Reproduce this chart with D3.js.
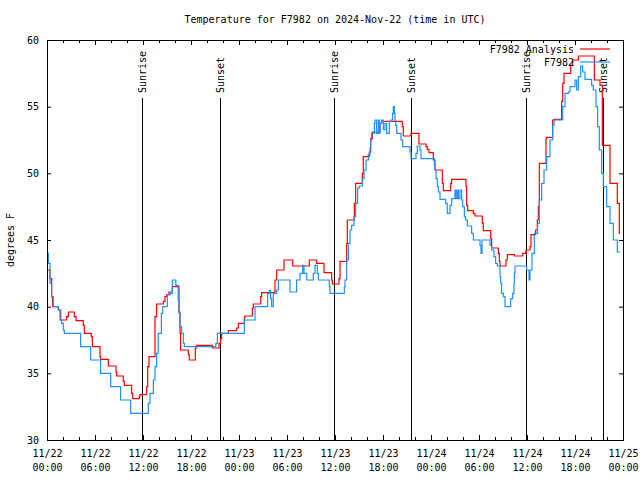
<!DOCTYPE html>
<html>
<head>
<meta charset="utf-8">
<script src="https://cdn.jsdelivr.net/npm/d3@7"></script>
<style>
  body { margin: 0; background: #fff; }
  svg text { font-family: "DejaVu Sans Mono", monospace; font-size: 10px; fill: #000; }
</style>
</head>
<body>
<div id="chart"></div>
<script>
// hours after 2024-11-22 00:00 UTC, temperature in F
const analysisSeries = [
  [0, 42.75], [0.375, 42.1], [0.58, 40.75], [0.71, 40.0], [1.42, 39.75], [1.71, 39.0],
  [2.46, 39.25], [2.67, 39.6], [3.42, 39.25], [3.625, 38.95], [4.54, 38.6], [4.67, 38.0],
  [5.54, 37.75], [5.67, 37.0], [6.625, 36.25], [6.71, 36.05], [7.67, 35.55], [8.625, 35.1],
  [8.71, 34.8], [9.54, 34.4], [9.67, 34.1], [10.58, 33.5], [10.71, 33.1], [11.54, 33.25],
  [11.625, 33.4], [12.46, 34.0], [12.58, 35.5], [12.75, 36.25], [13.5, 39.25], [13.7, 40.2],
  [14.54, 40.4], [14.75, 40.75], [14.96, 40.9], [15.25, 41.1], [15.67, 41.5], [16.5, 39.6],
  [16.625, 38.0], [16.7, 36.75], [17.67, 36.4], [17.79, 36.0], [18.54, 36.9], [18.7, 37.1],
  [20.67, 36.9], [21.5, 37.25], [21.7, 37.6], [21.83, 38.0], [22.67, 38.2], [23.71, 38.4],
  [23.92, 38.75], [24.67, 39.2], [24.75, 39.3], [25.67, 39.9], [25.79, 40.2], [26.71, 40.75],
  [26.83, 41.05], [28.42, 41.1], [28.5, 42.0], [28.71, 42.75], [29.625, 43.5], [30.71, 43.05],
  [32.79, 43.5], [33.7, 43.25], [34.625, 42.55], [35.58, 42.0], [35.67, 41.7], [36.5, 42.1],
  [36.625, 43.4], [37.46, 44.75], [37.54, 46.5], [38.42, 47.75], [38.58, 49.25], [39.42, 50.0],
  [39.54, 51.25], [40.29, 51.6], [40.46, 52.6], [40.67, 53.1], [41.625, 53.75], [41.83, 53.9],
  [44.42, 53.5], [44.54, 52.8], [45.5, 53.0], [46.5, 52.2], [47.375, 52.0], [47.54, 51.8],
  [47.75, 51.55], [48.29, 51.0], [48.5, 50.25], [49.42, 49.25], [49.54, 48.7], [50.46, 49.25],
  [50.58, 49.55], [52.375, 49.0], [52.46, 47.6], [52.58, 47.2], [53.29, 47.0], [53.5, 46.8],
  [54.42, 46.25], [54.54, 45.7], [55.46, 45.1], [55.58, 44.4], [56.42, 44.0], [56.54, 43.4],
  [56.625, 43.05], [57.375, 43.5], [57.54, 43.9], [58.42, 43.8], [59.46, 44.0], [59.875, 44.25],
  [60.375, 44.5], [60.5, 45.4], [61.08, 45.75], [61.29, 46.5], [61.42, 47.5], [61.54, 50.75],
  [62.375, 52.6], [62.46, 52.7], [63.21, 54.0], [63.375, 54.05], [64.33, 55.4], [64.46, 56.75],
  [64.625, 57.5], [65.46, 58.1], [65.71, 58.5], [66.42, 58.8], [68.42, 57.0], [69.125, 56.6],
  [69.42, 52.1], [70.375, 49.25], [71.29, 47.75], [71.54, 45.5], [71.625, 45.5]
];

const obsSeries = [
  [0, 44.0], [0.17, 43.25], [0.375, 41.75], [0.58, 40.75], [0.79, 40.0], [1.42, 39.75],
  [1.625, 39.0], [1.83, 38.75], [2.04, 38.25], [2.17, 38.0], [4.2, 37.0], [5.46, 36.0],
  [6.7, 35.0], [7.96, 34.0], [9.2, 33.0], [10.46, 32.0], [12.67, 32.75], [12.875, 33.5],
  [13.3, 34.5], [13.5, 35.5], [13.7, 36.5], [13.9, 38.0], [14.3, 39.5], [14.46, 40.0],
  [15.04, 40.9], [15.4, 41.0], [15.67, 42.0], [16.1, 41.6], [16.4, 40.5], [16.5, 39.5],
  [16.625, 38.5], [16.83, 38.0], [17.04, 37.25], [17.17, 37.0], [21.1, 37.25], [21.3, 38.0],
  [24.67, 39.0], [26.0, 40.0], [27.58, 41.0], [27.79, 41.2], [27.95, 40.6], [28.08, 40.0],
  [28.29, 41.0], [28.71, 41.25], [28.92, 42.0], [30.375, 41.1], [31.2, 42.0], [31.625, 42.5],
  [31.96, 43.1], [32.125, 42.5], [32.46, 42.0], [33.29, 42.5], [33.5, 43.1], [33.79, 42.5],
  [33.92, 42.0], [35.29, 41.5], [35.375, 41.0], [37.17, 41.5], [37.25, 42.0], [37.46, 43.5],
  [37.67, 44.75], [37.875, 45.75], [38.08, 46.1], [38.375, 46.75], [38.58, 47.75], [38.83, 48.9],
  [39.04, 49.05], [39.42, 49.6], [39.625, 50.25], [39.875, 51.0], [40.17, 51.4], [40.375, 51.9],
  [40.46, 52.5], [40.58, 53.0], [40.92, 53.75], [41.0, 54.0], [41.2, 53.0], [41.42, 54.0],
  [41.54, 53.0], [41.625, 53.75], [41.83, 54.0], [42.04, 53.25], [42.25, 53.75], [42.46, 53.0],
  [42.79, 53.9], [42.96, 54.0], [43.2, 54.5], [43.29, 55.0], [43.42, 54.5], [43.5, 54.0],
  [43.58, 53.6], [43.71, 53.0], [44.25, 52.5], [44.46, 52.0], [45.375, 51.6], [45.5, 51.1],
  [46.125, 51.5], [46.29, 52.05], [46.625, 51.75], [46.75, 51.1], [48.42, 50.6], [48.5, 50.25],
  [48.625, 49.6], [48.79, 49.0], [48.92, 48.6], [49.125, 48.05], [49.83, 47.75], [50.04, 47.0],
  [50.375, 47.6], [50.58, 48.1], [51.0, 48.75], [51.125, 48.1], [51.29, 48.75], [51.42, 48.1],
  [51.625, 48.75], [51.83, 48.0], [51.96, 47.5], [52.17, 46.75], [52.33, 46.5], [52.54, 46.05],
  [53.08, 45.5], [53.29, 45.0], [54.125, 44.6], [54.25, 44.0], [54.375, 45.0], [55.375, 44.6],
  [55.58, 44.25], [55.875, 43.75], [56.08, 43.25], [56.29, 43.05], [56.625, 42.25], [56.71, 41.75],
  [56.83, 41.0], [57.04, 40.75], [57.25, 40.0], [57.96, 40.6], [58.21, 41.0], [58.375, 41.75],
  [58.42, 42.5], [58.5, 43.05], [59.96, 42.75], [60.25, 42.0], [60.375, 42.75], [60.625, 44.0],
  [60.92, 45.5], [61.33, 46.25], [61.54, 48.0], [61.83, 49.25], [62.125, 50.25], [62.46, 51.25],
  [62.875, 52.5], [63.21, 53.6], [63.375, 54.0], [64.46, 55.0], [64.75, 56.0], [65.17, 56.1],
  [65.375, 56.5], [66.0, 57.0], [66.21, 56.25], [66.42, 57.25], [66.71, 58.05], [66.96, 57.6],
  [67.25, 57.05], [68.08, 56.6], [68.29, 56.25], [68.625, 55.0], [68.83, 53.5], [69.04, 51.75],
  [69.33, 50.0], [69.54, 49.0], [69.96, 47.5], [70.375, 46.25], [70.79, 45.0], [71.29, 44.1],
  [71.625, 44.1]
];

const sunEvents = [
  ["Sunrise", 11.9], ["Sunset", 21.6], ["Sunrise", 35.9],
  ["Sunset", 45.5], ["Sunrise", 59.9], ["Sunset", 69.5]
];

const yTicks = [30, 35, 40, 45, 50, 55, 60];
const seriesNames = ["F7982 Analysis", "F7982"];
const seriesColors = ["#ff0000", "#1e90ff"];

const width = 640, height = 480;
const margin = {top: 40, right: 17, bottom: 40, left: 47};
const w = width - margin.left - margin.right;
const h = height - margin.top - margin.bottom;

const t0 = Date.UTC(2024, 10, 22);
const toDate = hr => new Date(t0 + hr * 3600 * 1000);

const x = d3.scaleUtc()
  .domain([toDate(0), toDate(72)])
  .range([0, w]);
const y = d3.scaleLinear()
  .domain([30, 60])
  .range([h, 0]);

const svg = d3.select("#chart")
  .append("svg")
  .attr("width", width)
  .attr("height", height);

svg.append("text")
  .attr("x", margin.left + w / 2)
  .attr("y", 23)
  .attr("text-anchor", "middle")
  .text("Temperature for F7982 on 2024-Nov-22 (time in UTC)");

svg.append("text")
  .attr("transform", `translate(14,${margin.top + h / 2}) rotate(-90)`)
  .attr("text-anchor", "middle")
  .text("degrees F");

const g = svg.append("g")
  .attr("transform", `translate(${margin.left},${margin.top})`);

// minor ticks every 2 hours
const minorTicks = d3.utcHour.every(2).range(toDate(0), toDate(72.01));
g.append("g")
  .attr("transform", `translate(0,${h})`)
  .call(d3.axisBottom(x).tickValues(minorTicks).tickSize(-3).tickSizeOuter(0).tickFormat(""));
g.append("g")
  .call(d3.axisTop(x).tickValues(minorTicks).tickSize(-3).tickSizeOuter(0).tickFormat(""));

// major ticks every 6 hours
const majorTicks = d3.utcHour.every(6).range(toDate(0), toDate(72.01));
const fmtDay = d3.utcFormat("%m/%d");
const fmtTime = d3.utcFormat("%H:%M");

const xAxis = g.append("g")
  .attr("transform", `translate(0,${h})`)
  .call(d3.axisBottom(x).tickValues(majorTicks).tickSize(-5).tickSizeOuter(0).tickPadding(10).tickFormat(""));
xAxis.selectAll(".tick text").each(function(d) {
  const t = d3.select(this);
  t.append("tspan").attr("x", 0).attr("dy", "0.71em").text(fmtDay(d));
  t.append("tspan").attr("x", 0).attr("dy", "1.4em").text(fmtTime(d));
});
g.append("g")
  .call(d3.axisTop(x).tickValues(majorTicks).tickSize(-5).tickSizeOuter(0).tickFormat(""));

g.append("g")
  .call(d3.axisLeft(y).tickValues(yTicks).tickSize(-4).tickSizeOuter(0).tickPadding(8));
g.append("g")
  .attr("transform", `translate(${w},0)`)
  .call(d3.axisRight(y).tickValues(yTicks).tickSize(-4).tickSizeOuter(0).tickFormat(""));

g.selectAll(".domain").remove();
g.selectAll(".tick line").attr("stroke", "#000");
g.selectAll(".tick text").attr("font-family", null).attr("font-size", null);

// sunrise / sunset markers
const sunTop = 55.65;
const sun = g.append("g");
sunEvents.forEach(([name, hr]) => {
  const sx = Math.round(x(toDate(hr))) + 0.5;
  sun.append("line")
    .attr("x1", sx).attr("x2", sx)
    .attr("y1", y(sunTop)).attr("y2", h)
    .attr("stroke", "#000").attr("stroke-width", 1);
  sun.append("text")
    .attr("transform", `translate(${sx},${y(sunTop) - 5}) rotate(-90)`)
    .attr("dy", "0.35em")
    .attr("text-anchor", "start")
    .text(name);
});

const line = d3.line()
  .x(d => x(toDate(d[0])))
  .y(d => y(d[1]))
  .curve(d3.curveStepAfter);

[analysisSeries, obsSeries].forEach((s, i) => {
  g.append("path")
    .datum(s)
    .attr("fill", "none")
    .attr("stroke", seriesColors[i])
    .attr("stroke-width", 1.2)
    .attr("d", line);
});

// legend
const legend = g.append("g");
seriesNames.forEach((name, i) => {
  const ly = 9 + i * 13;
  legend.append("text")
    .attr("x", 527)
    .attr("y", ly)
    .attr("dy", "0.35em")
    .attr("text-anchor", "end")
    .text(name);
  legend.append("line")
    .attr("x1", 533).attr("x2", 563)
    .attr("y1", ly).attr("y2", ly)
    .attr("stroke", seriesColors[i])
    .attr("stroke-width", 1.2);
});

g.append("rect")
  .attr("x", 0.5).attr("y", 0.5)
  .attr("width", w).attr("height", h)
  .attr("fill", "none")
  .attr("stroke", "#000");
</script>
</body>
</html>
